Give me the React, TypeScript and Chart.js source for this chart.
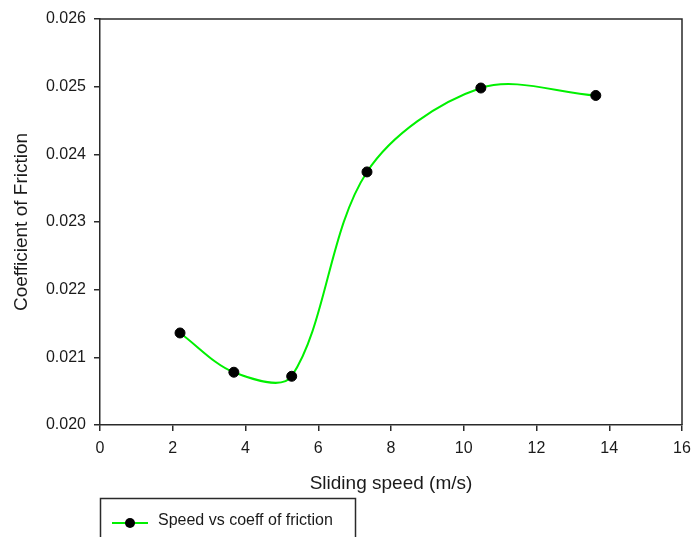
import React, { useEffect, useRef } from 'react';
import { Chart, registerables } from 'chart.js';

Chart.register(...registerables);

const speeds = [2.2, 3.68, 5.27, 7.34, 10.47, 13.63];
const friction = [0.02136, 0.02078, 0.02072, 0.02374, 0.02498, 0.02487];
const xTicks = [0, 2, 4, 6, 8, 10, 12, 14, 16];
const yTicks = [0.02, 0.021, 0.022, 0.023, 0.024, 0.025, 0.026];
const seriesLabel = 'Speed vs coeff of friction';
const xTitle = 'Sliding speed (m/s)';
const yTitle = 'Coefficient of Friction';

const FONT = '"Liberation Sans", Arial, sans-serif';
const AXIS = '#2a2a2a';
const GREEN = '#00f000';

const framePlugin = {
  id: 'frameAndLegend',
  afterDraw(chart: any) {
    const { ctx, chartArea } = chart;
    const { left, right, top, bottom } = chartArea;
    ctx.save();
    ctx.strokeStyle = AXIS;
    ctx.lineWidth = 1.5;
    ctx.beginPath();
    ctx.moveTo(left, top);
    ctx.lineTo(right, top);
    ctx.lineTo(right, bottom);
    ctx.stroke();

    // legend box
    const lx = left;
    const ly = bottom + 73;
    ctx.lineWidth = 1.5;
    ctx.strokeRect(lx + 0.5, ly + 0.5, 255, 60);
    const cy = ly + 25;
    ctx.strokeStyle = GREEN;
    ctx.lineWidth = 2;
    ctx.beginPath();
    ctx.moveTo(lx + 12, cy);
    ctx.lineTo(lx + 48, cy);
    ctx.stroke();
    ctx.fillStyle = '#000';
    ctx.beginPath();
    ctx.arc(lx + 30, cy, 5, 0, Math.PI * 2);
    ctx.fill();
    ctx.fillStyle = '#1a1a1a';
    ctx.font = `16px ${FONT}`;
    ctx.textBaseline = 'alphabetic';
    ctx.textAlign = 'left';
    ctx.fillText(seriesLabel, lx + 58, cy + 2);
    ctx.restore();
  },
};

export default function App() {
  const ref = useRef<HTMLCanvasElement | null>(null);

  useEffect(() => {
    document.body.style.margin = '0';
    if (!ref.current) return;
    const chart = new Chart(ref.current, {
      type: 'line',
      data: {
        datasets: [
          {
            label: seriesLabel,
            data: speeds.map((x, i) => ({ x, y: friction[i] })),
            borderColor: GREEN,
            borderWidth: 2,
            tension: 0.33,
            pointRadius: 5,
            pointBackgroundColor: '#000',
            pointBorderColor: '#000',
            pointBorderWidth: 1,
            fill: false,
          },
        ],
      },
      options: {
        responsive: false,
        animation: false,
        layout: { padding: { top: 19, right: 10, left: 0, bottom: 42 } },
        plugins: { legend: { display: false }, tooltip: { enabled: false } },
        scales: {
          x: {
            type: 'linear',
            min: 0,
            max: 16,
            afterBuildTicks: (s: any) => {
              s.ticks = xTicks.map((v) => ({ value: v }));
            },
            afterFit: (s: any) => {
              s.height = 70;
              s.paddingRight = 0;
              s.paddingLeft = 0;
            },
            grid: { drawOnChartArea: false, drawTicks: true, tickLength: 6, color: AXIS, lineWidth: 1.5 },
            border: { display: true, color: AXIS, width: 1.5 },
            ticks: { color: '#1a1a1a', font: { family: FONT, size: 16 }, padding: 8, maxRotation: 0 },
            title: { display: true, text: xTitle, color: '#1a1a1a', font: { family: FONT, size: 19 }, padding: { top: 0, bottom: 0 } },
          },
          y: {
            type: 'linear',
            min: 0.02,
            max: 0.026,
            afterBuildTicks: (s: any) => {
              s.ticks = yTicks.map((v) => ({ value: v }));
            },
            afterFit: (s: any) => {
              s.width = 100;
              s.paddingTop = 0;
              s.paddingBottom = 0;
            },
            grid: { drawOnChartArea: false, drawTicks: true, tickLength: 6, color: AXIS, lineWidth: 1.5 },
            border: { display: true, color: AXIS, width: 1.5 },
            ticks: {
              color: '#1a1a1a',
              font: { family: FONT, size: 16 },
              padding: 8,
              callback: (v: any) => Number(v).toFixed(3),
            },
            title: { display: true, text: yTitle, color: '#1a1a1a', font: { family: FONT, size: 19 }, padding: { top: 10, bottom: 0 } },
          },
        },
      },
      plugins: [framePlugin],
    });
    return () => chart.destroy();
  }, []);

  return <canvas ref={ref} width={692} height={537} />;
}
